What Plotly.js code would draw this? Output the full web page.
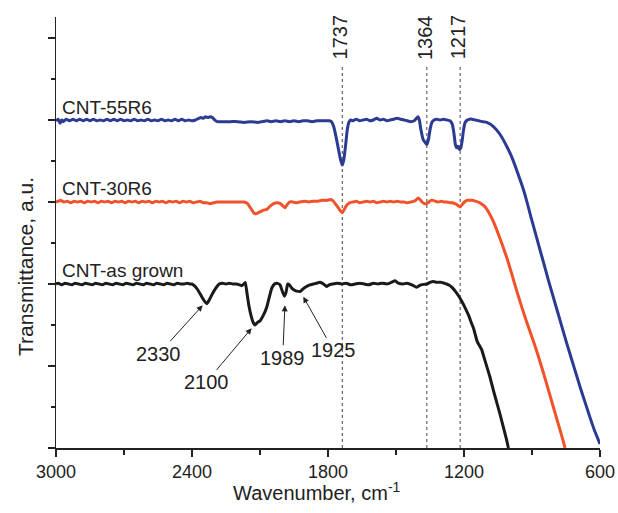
<!DOCTYPE html>
<html>
<head>
<meta charset="utf-8">
<script src="https://cdn.plot.ly/plotly-3.0.1.min.js"></script>
<style>
html,body{margin:0;padding:0;background:#fff;}
#chart{width:618px;height:513px;}
</style>
</head>
<body>
<div id="chart"></div>
<script>
// ---- Data ----
const wn55 = [3000,2990,2982,2975,2968,2955,2940,2925,2910,2895,2880,2865,2850,2835,2820,2805,2790,2775,2760,2745,2730,2715,2700,2685,2670,2655,2640,2625,2610,2595,2580,2565,2550,2535,2520,2505,2490,2475,2460,2445,2430,2415,2400,2385,2370,2360,2350,2340,2330,2320,2310,2300,2290,2260,2230,2200,2170,2140,2110,2090,2070,2050,2030,2010,1990,1970,1950,1930,1910,1890,1870,1850,1830,1810,1795,1785,1775,1765,1755,1745,1737,1730,1722,1715,1708,1700,1690,1675,1660,1645,1630,1615,1600,1585,1570,1555,1540,1525,1510,1495,1480,1465,1450,1435,1420,1410,1403,1397,1390,1380,1370,1364,1357,1350,1342,1332,1320,1305,1290,1275,1262,1252,1245,1238,1232,1226,1220,1214,1208,1202,1195,1185,1175,1165,1150,1135,1120,1100,1070,1040,1010,985,960,940,925,905,885,865,845,825,805,785,765,745,725,705,685,665,645,625,600];
const t55 = [3.99,4.01,3.96,4.00,3.98,4.01,3.99,4.01,3.99,4.01,3.99,4.01,3.99,4.01,3.99,4.00,3.99,4.01,3.99,4.01,3.99,4.01,3.99,4.00,3.99,4.01,3.99,4.00,3.99,4.01,3.99,4.00,3.99,4.01,3.99,4.00,3.99,4.01,3.99,4.01,3.99,4.00,3.99,4.00,4.02,4.03,4.02,4.04,4.03,4.04,4.03,4.00,3.98,3.98,3.98,3.98,3.97,3.98,3.97,3.98,3.99,3.98,3.99,3.98,3.99,3.98,3.99,3.98,3.99,3.99,3.98,3.99,3.99,3.99,3.99,3.98,3.92,3.80,3.66,3.52,3.45,3.52,3.70,3.88,3.97,4.00,3.99,4.01,3.99,4.00,4.01,3.99,4.00,4.02,4.00,4.01,3.99,4.00,4.01,4.02,4.01,4.00,3.99,3.98,3.99,4.02,4.04,4.00,3.88,3.76,3.72,3.70,3.76,3.88,3.97,4.00,4.01,4.00,4.01,4.00,3.99,3.95,3.85,3.70,3.66,3.68,3.64,3.66,3.75,3.88,3.97,4.00,4.01,4.01,4.00,3.99,3.98,3.97,3.92,3.82,3.67,3.52,3.33,3.17,3.03,2.82,2.62,2.42,2.22,2.02,1.83,1.64,1.45,1.26,1.08,0.90,0.72,0.55,0.38,0.22,0.05];

const wn30 = [3000,2990,2980,2965,2950,2935,2920,2905,2890,2875,2860,2845,2830,2815,2800,2785,2770,2755,2740,2725,2710,2695,2680,2665,2650,2635,2620,2605,2590,2575,2560,2545,2530,2515,2500,2485,2470,2455,2440,2425,2410,2395,2380,2365,2350,2335,2320,2305,2290,2275,2260,2245,2230,2215,2200,2185,2170,2155,2140,2125,2115,2100,2085,2070,2055,2040,2026,2010,1998,1990,1982,1970,1955,1940,1925,1905,1885,1865,1845,1825,1805,1790,1780,1768,1755,1745,1737,1728,1718,1705,1690,1675,1660,1645,1630,1615,1600,1585,1570,1555,1540,1525,1510,1495,1480,1465,1450,1435,1420,1410,1402,1394,1385,1375,1364,1355,1345,1336,1328,1315,1300,1288,1276,1262,1250,1240,1232,1224,1217,1208,1198,1188,1180,1174,1165,1150,1130,1110,1090,1070,1050,1030,1010,990,970,950,930,910,890,870,850,830,810,790,770,754];
const t30 = [3.00,3.01,3.02,3.00,3.01,2.99,3.01,3.00,3.01,2.99,3.01,3.00,3.01,2.99,3.01,3.00,3.01,2.99,3.01,3.00,3.01,2.99,3.01,3.00,3.01,2.99,3.01,3.00,3.01,2.99,3.01,3.00,3.01,2.99,3.01,3.00,3.01,2.99,3.01,3.00,3.01,2.99,3.00,3.01,2.99,2.99,2.98,2.99,3.00,3.00,3.00,3.00,3.00,3.00,3.00,3.00,3.00,2.98,2.92,2.86,2.86,2.88,2.90,2.91,2.95,2.98,2.99,2.98,2.95,2.93,2.96,3.00,3.00,2.99,3.00,3.01,3.00,3.01,3.01,3.02,3.02,3.03,3.02,2.98,2.93,2.89,2.87,2.91,2.96,2.99,3.00,3.01,2.99,3.00,3.01,3.00,3.01,2.99,3.00,3.01,3.00,3.01,3.00,3.01,3.00,3.00,2.99,3.00,3.01,3.03,3.05,3.03,3.00,2.98,2.98,3.00,3.02,3.02,3.01,3.00,3.01,3.00,3.00,2.99,2.99,2.98,2.97,2.95,2.94,2.97,3.00,3.02,3.02,3.02,3.02,3.01,2.99,2.95,2.87,2.76,2.62,2.47,2.31,2.13,1.94,1.76,1.59,1.43,1.27,1.10,0.92,0.73,0.54,0.35,0.16,0.00];

const wnAG = [3000,2990,2975,2960,2945,2930,2915,2900,2885,2870,2855,2840,2825,2810,2795,2780,2765,2750,2735,2720,2705,2690,2675,2660,2645,2630,2615,2600,2585,2570,2555,2540,2525,2510,2495,2480,2465,2450,2435,2420,2410,2400,2390,2375,2360,2345,2335,2325,2310,2295,2280,2265,2250,2235,2220,2205,2190,2180,2172,2165,2158,2150,2140,2130,2122,2112,2100,2085,2070,2058,2048,2036,2026,2012,2000,1992,1985,1978,1970,1960,1945,1930,1922,1910,1895,1880,1865,1850,1835,1820,1806,1795,1780,1760,1740,1720,1700,1680,1660,1640,1620,1600,1580,1560,1540,1520,1504,1490,1470,1450,1430,1409,1390,1364,1350,1335,1320,1300,1288,1276,1262,1250,1238,1225,1210,1195,1180,1168,1158,1150,1142,1132,1122,1110,1098,1085,1070,1055,1041,1025,1012,1004];
const tAG = [2.00,2.01,1.99,2.01,2.00,1.99,2.01,2.00,1.99,2.01,2.00,1.99,2.01,2.00,1.99,2.01,2.00,1.99,2.01,2.00,1.99,2.01,2.00,1.99,2.01,2.00,1.99,2.01,2.00,1.99,2.01,2.00,1.99,2.01,2.00,1.99,2.01,2.00,2.00,2.01,2.00,2.00,1.98,1.93,1.86,1.79,1.76,1.80,1.88,1.95,2.00,2.01,2.00,2.01,2.00,2.00,1.99,1.98,2.00,2.02,1.90,1.75,1.62,1.53,1.50,1.53,1.55,1.62,1.72,1.85,1.95,2.00,2.01,1.99,1.90,1.85,1.90,2.00,1.99,1.95,1.92,1.91,1.91,1.94,1.97,1.99,2.00,2.01,2.02,2.00,1.97,1.99,2.00,2.01,2.00,2.01,1.99,2.00,2.01,2.00,1.99,2.01,2.00,2.01,2.00,2.02,2.04,2.01,2.00,2.01,1.99,1.96,1.99,2.00,2.02,2.03,2.02,2.02,2.01,2.00,1.98,1.95,1.91,1.86,1.79,1.71,1.62,1.53,1.46,1.38,1.30,1.25,1.20,1.09,0.98,0.86,0.70,0.55,0.41,0.24,0.10,0.00];

const seriesNames = ["CNT-55R6", "CNT-30R6", "CNT-as grown"];
const labelY = [4.15, 3.17, 2.17];
const peakLines = [1737, 1364, 1217];
const peakLabels = ["1737", "1364", "1217"];
const arrowPeaks = [2353, 2137, 1990, 1909];
const arrowPeakY = [1.74, 1.46, 1.74, 1.845];
const arrowLabels = ["2330", "2100", "1989", "1925"];
const arrowTextX = [2546, 2338, 2000, 1776];
const arrowTextY = [1.15, 0.80, 1.10, 1.19];
const xTicks = [3000, 2400, 1800, 1200, 600];

// ---- Plot ----
const FONT = "Liberation Sans, Arial, Helvetica, sans-serif";
const colors = ["#2b3a92", "#f2522a", "#1a1a1a"];
const traces = [
  {x: wn55, y: t55, name: seriesNames[0]},
  {x: wn30, y: t30, name: seriesNames[1]},
  {x: wnAG, y: tAG, name: seriesNames[2]}
].map((t, i) => Object.assign(t, {
  type: "scatter", mode: "lines",
  line: {color: colors[i], width: 3, shape: "spline", smoothing: 0.4},
  showlegend: false, hoverinfo: "skip"
}));

const shapes = peakLines.map(p => ({
  type: "line", xref: "x", yref: "y", x0: p, x1: p, y0: 0, y1: 4.67,
  line: {color: "#444", width: 1, dash: "dot"}, layer: "below"
}));

const annotations = [];
seriesNames.forEach((n, i) => annotations.push({
  xref: "x", yref: "y", x: 3000, y: labelY[i], text: n, showarrow: false,
  xanchor: "left", yanchor: "middle", xshift: 4,
  font: {family: FONT, size: 19, color: "#222"}
}));
peakLabels.forEach((t, i) => annotations.push({
  xref: "x", yref: "y", x: peakLines[i], y: 5.01, text: t, showarrow: false,
  textangle: -90, xanchor: "center", yanchor: "middle", xshift: -2,
  font: {family: FONT, size: 20, color: "#222"}
}));
arrowLabels.forEach((t, i) => annotations.push({
  xref: "x", yref: "y", x: arrowPeaks[i], y: arrowPeakY[i], text: t,
  showarrow: true, axref: "x", ayref: "y", ax: arrowTextX[i], ay: arrowTextY[i],
  arrowhead: 2, arrowsize: 1.2, arrowwidth: 1, arrowcolor: "#222", standoff: 0,
  font: {family: FONT, size: 20, color: "#222"}
}));
annotations.push({
  xref: "paper", yref: "paper", x: (317 - 56) / 544, y: -0.10, text: "Wavenumber, cm<sup>-1</sup>",
  showarrow: false, xanchor: "center", yanchor: "middle",
  font: {family: FONT, size: 20, color: "#222"}
});
annotations.push({
  xref: "paper", yref: "paper", x: -0.057, y: (448 - 266) / 431, text: "Transmittance, a.u.",
  showarrow: false, textangle: -90, xanchor: "center", yanchor: "middle",
  font: {family: FONT, size: 21, color: "#222"}
});

const layout = {
  width: 618, height: 513,
  margin: {l: 56, r: 18, t: 17, b: 65},
  paper_bgcolor: "#fff", plot_bgcolor: "#fff",
  font: {family: FONT, color: "#222"},
  xaxis: {
    range: [3000, 600], tickmode: "array", tickvals: xTicks,
    ticks: "outside", ticklen: 7, tickwidth: 1.5, tickcolor: "#222",
    minor: {dtick: 300, tick0: 600, ticks: "outside", ticklen: 5, tickwidth: 1.5, tickcolor: "#222", showgrid: false},
    showline: true, linecolor: "#222", linewidth: 1.5, showgrid: false, zeroline: false,
    tickfont: {family: FONT, size: 18, color: "#222"}
  },
  yaxis: {
    range: [0, 5.256], tickmode: "linear", tick0: 0, dtick: 1,
    ticks: "outside", ticklen: 7, tickwidth: 1.5, tickcolor: "#222",
    minor: {dtick: 0.5, tick0: 0, ticks: "outside", ticklen: 4, tickwidth: 1.5, tickcolor: "#222", showgrid: false},
    showticklabels: false, showline: true, linecolor: "#222", linewidth: 1.5,
    showgrid: false, zeroline: false
  },
  shapes: shapes,
  annotations: annotations
};

Plotly.newPlot("chart", traces, layout, {displayModeBar: false, staticPlot: true});
</script>
</body>
</html>
